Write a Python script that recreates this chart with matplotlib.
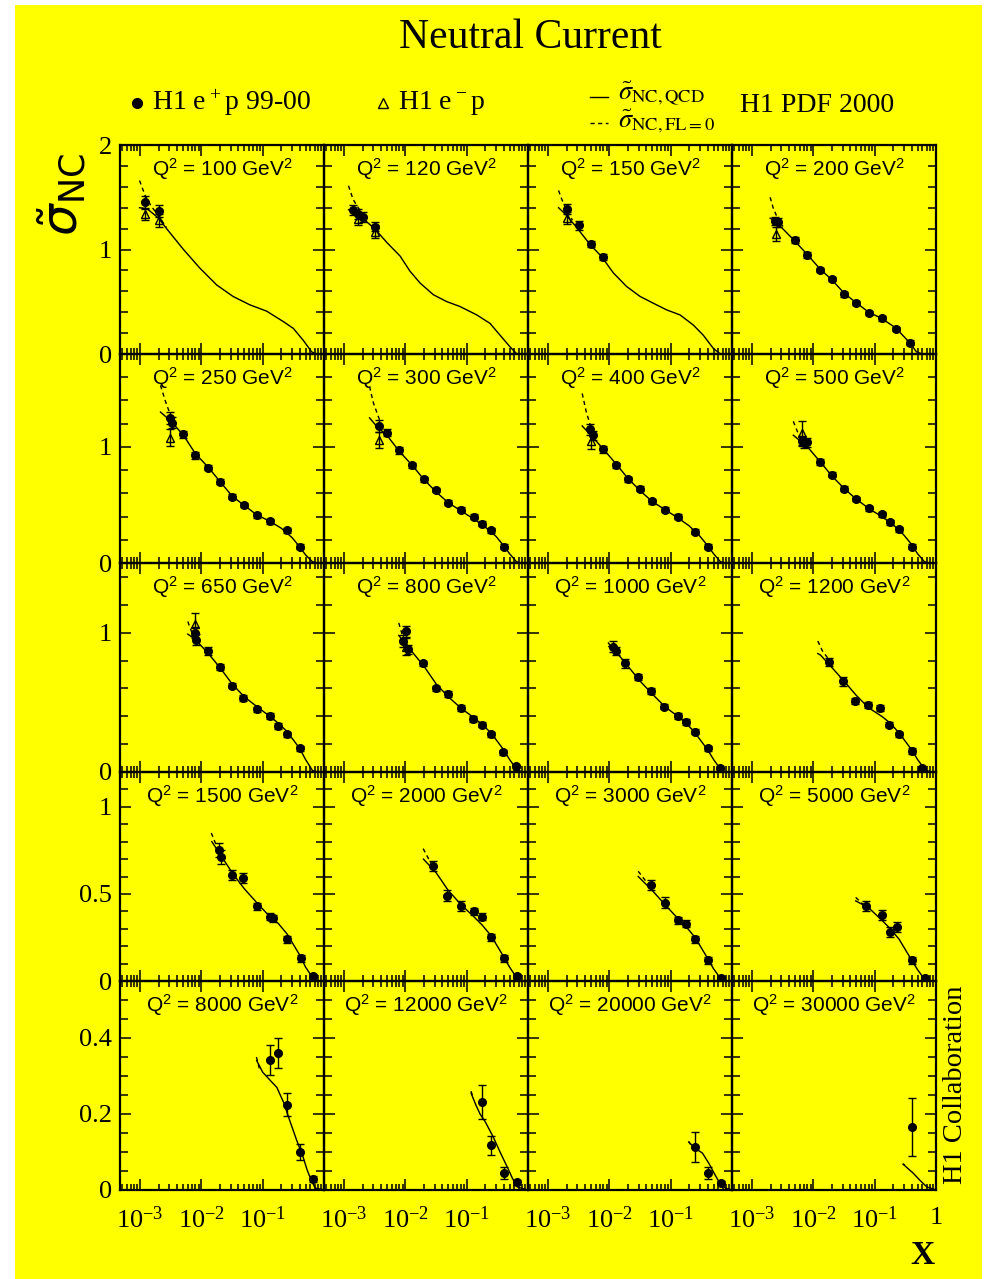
import matplotlib
matplotlib.use("Agg")
import matplotlib.pyplot as plt
from matplotlib.patches import Rectangle
from matplotlib.ticker import FixedLocator, FixedFormatter, NullFormatter, LogLocator

# ---------------------------------------------------------------- layout data
Q2_LIST = [100, 120, 150, 200, 250, 300, 400, 500, 650, 800,
           1000, 1200, 1500, 2000, 3000, 5000, 8000, 12000, 20000, 30000]
ROW_YMAX = [2.0, 1.8, 1.5, 1.2, 0.55]
ROW_MAJOR = [[0, 1, 2], [0, 1], [0, 1], [0, 0.5, 1], [0, 0.2, 0.4]]
ROW_LABELS = [["0", "1", "2"], ["0", "1"], ["0", "1"], ["0", "0.5", "1"], ["0", "0.2", "0.4"]]
ROW_MINOR = [0.2, 0.2, 0.2, 0.1, 0.05]
X_MAJOR = [1e-3, 1e-2, 1e-1, 1.0]
X_LABELS = [r"$\mathregular{10^{-3}}$", r"$\mathregular{10^{-2}}$", r"$\mathregular{10^{-1}}$", "1"]
X_MIN = 4.7e-4

# ---------------------------------------------------------------- per-bin data
# fit_*: H1 PDF 2000 sigma_NC (QCD), fl0_*: same with F_L = 0
# ep_*: H1 e+p 99-00 (x, sigma, error); em_*: H1 e-p (x, sigma, error)
fit_100 = ([0.00098, 0.0013, 0.002, 0.0027, 0.0051, 0.0095, 0.0178, 0.033, 0.062, 0.116, 0.217, 0.316, 0.46, 0.63, 0.75, 1.0],
           [1.40, 1.39, 1.30, 1.20, 1.00, 0.82, 0.66, 0.55, 0.47, 0.41, 0.31, 0.245, 0.13, 0.02, 0.0, 0.0])
fl0_100 = ([0.00098, 0.0012, 0.0015, 0.002, 0.0027], [1.66, 1.52, 1.42, 1.32, 1.21])
ep_100 = ([0.0012, 0.002], [1.45, 1.37], [0.06, 0.06])
em_100 = ([0.0012, 0.002], [1.34, 1.28], [0.06, 0.06])

fit_120 = ([0.00118, 0.0015, 0.002, 0.0032, 0.005, 0.0082, 0.0119, 0.0173, 0.0286, 0.047, 0.078, 0.146, 0.24, 0.35, 0.51, 0.65, 0.8, 1.0],
           [1.38, 1.36, 1.30, 1.195, 1.066, 0.937, 0.792, 0.68, 0.567, 0.502, 0.454, 0.374, 0.293, 0.18, 0.068, 0.003, 0.0, 0.0])
fl0_120 = ([0.00118, 0.0014, 0.0017, 0.0022], [1.61, 1.48, 1.40, 1.31])
ep_120 = ([0.0014, 0.0017, 0.002, 0.0032], [1.38, 1.34, 1.31, 1.22], [0.05, 0.05, 0.05, 0.04])
em_120 = ([0.0017, 0.0032], [1.29, 1.17], [0.06, 0.06])

fit_150 = ([0.00148, 0.0019, 0.00294, 0.0048, 0.0075, 0.0116, 0.019, 0.0316, 0.052, 0.086, 0.142, 0.234, 0.34, 0.5, 0.64, 0.8, 1.0],
           [1.40, 1.34, 1.21, 1.05, 0.93, 0.776, 0.647, 0.551, 0.486, 0.422, 0.374, 0.277, 0.18, 0.051, 0.003, 0.0, 0.0])
fl0_150 = ([0.00148, 0.0017, 0.002, 0.0025], [1.565, 1.47, 1.38, 1.28])
ep_150 = ([0.002, 0.0032, 0.005, 0.008], [1.39, 1.23, 1.05, 0.93], [0.05, 0.04, 0.03, 0.03])
em_150 = ([0.002], [1.30], [0.06])

fit_200 = ([0.00197, 0.0024, 0.005, 0.008, 0.013, 0.02, 0.032, 0.05, 0.08, 0.13, 0.22, 0.37, 0.48, 0.6, 1.0],
           [1.30, 1.27, 1.08, 0.95, 0.81, 0.71, 0.58, 0.49, 0.40, 0.34, 0.25, 0.11, 0.02, 0.0, 0.0])
fl0_200 = ([0.00197, 0.0022, 0.0026, 0.0032], [1.50, 1.40, 1.30, 1.22])
ep_200 = ([0.0024, 0.0026, 0.005, 0.008, 0.013, 0.02, 0.032, 0.05, 0.08, 0.13, 0.22, 0.37],
          [1.275, 1.26, 1.09, 0.95, 0.80, 0.72, 0.57, 0.49, 0.39, 0.34, 0.24, 0.11],
          [0.04, 0.04, 0.03, 0.03, 0.02, 0.02, 0.02, 0.02, 0.02, 0.02, 0.02, 0.02])
em_200 = ([0.0025], [1.15], [0.07])

fit_250 = ([0.00215, 0.0032, 0.0051, 0.0079, 0.013, 0.02, 0.032, 0.048, 0.079, 0.13, 0.2, 0.3, 0.4, 0.5, 0.65, 0.8, 1.0],
           [1.30, 1.22, 1.10, 0.945, 0.823, 0.703, 0.574, 0.503, 0.417, 0.36, 0.30, 0.22, 0.14, 0.07, 0.01, 0.0, 0.0])
fl0_250 = ([0.00215, 0.0026, 0.0031, 0.004], [1.53, 1.39, 1.28, 1.17])
ep_250 = ([0.0031, 0.0033, 0.005, 0.008, 0.013, 0.02, 0.032, 0.05, 0.08, 0.13, 0.25, 0.4],
          [1.25, 1.21, 1.11, 0.93, 0.82, 0.70, 0.57, 0.50, 0.41, 0.36, 0.28, 0.14],
          [0.05, 0.05, 0.03, 0.03, 0.02, 0.02, 0.02, 0.02, 0.02, 0.02, 0.02, 0.02])
em_250 = ([0.0031], [1.08], [0.07])

fit_300 = ([0.0026, 0.0035, 0.005, 0.008, 0.013, 0.02, 0.032, 0.05, 0.08, 0.13, 0.2, 0.3, 0.4, 0.5, 0.65, 0.8, 1.0],
           [1.25, 1.17, 1.10, 0.96, 0.84, 0.72, 0.61, 0.52, 0.45, 0.38, 0.31, 0.23, 0.15, 0.08, 0.01, 0.0, 0.0])
fl0_300 = ([0.0026, 0.003, 0.0038, 0.0048], [1.52, 1.38, 1.23, 1.12])
ep_300 = ([0.0037, 0.005, 0.008, 0.013, 0.02, 0.032, 0.05, 0.08, 0.13, 0.18, 0.25, 0.4],
          [1.18, 1.12, 0.97, 0.84, 0.72, 0.63, 0.52, 0.46, 0.40, 0.34, 0.28, 0.14],
          [0.05, 0.03, 0.03, 0.02, 0.02, 0.02, 0.02, 0.02, 0.02, 0.02, 0.02, 0.02])
em_300 = ([0.0037], [1.06], [0.07])

fit_400 = ([0.0036, 0.005, 0.008, 0.013, 0.02, 0.032, 0.05, 0.08, 0.13, 0.2, 0.3, 0.4, 0.5, 0.65, 0.8, 1.0],
           [1.18, 1.10, 0.98, 0.85, 0.73, 0.62, 0.53, 0.46, 0.39, 0.32, 0.23, 0.15, 0.08, 0.01, 0.0, 0.0])
fl0_400 = ([0.0036, 0.0042, 0.005, 0.006], [1.46, 1.30, 1.17, 1.10])
ep_400 = ([0.0048, 0.0055, 0.008, 0.013, 0.02, 0.032, 0.05, 0.08, 0.13, 0.25, 0.4],
          [1.15, 1.10, 0.98, 0.84, 0.72, 0.64, 0.53, 0.46, 0.40, 0.27, 0.14],
          [0.05, 0.04, 0.03, 0.02, 0.02, 0.02, 0.02, 0.02, 0.02, 0.02, 0.02])
em_400 = ([0.005], [1.05], [0.07])

fit_500 = ([0.0047, 0.0065, 0.008, 0.013, 0.02, 0.032, 0.05, 0.08, 0.13, 0.2, 0.3, 0.4, 0.5, 0.65, 0.8, 1.0],
           [1.10, 1.04, 1.00, 0.87, 0.75, 0.64, 0.55, 0.47, 0.40, 0.33, 0.24, 0.16, 0.08, 0.01, 0.0, 0.0])
fl0_500 = ([0.0047, 0.0056, 0.0066], [1.22, 1.12, 1.05])
ep_500 = ([0.0065, 0.007, 0.008, 0.013, 0.02, 0.032, 0.05, 0.08, 0.13, 0.18, 0.25, 0.4],
          [1.05, 1.03, 1.04, 0.87, 0.76, 0.64, 0.55, 0.47, 0.42, 0.35, 0.29, 0.14],
          [0.04, 0.04, 0.04, 0.03, 0.02, 0.02, 0.02, 0.02, 0.02, 0.02, 0.02, 0.02])
em_500 = ([0.0065], [1.12], [0.10])

fit_650 = ([0.006, 0.008, 0.013, 0.02, 0.032, 0.05, 0.08, 0.13, 0.18, 0.25, 0.4, 0.5, 0.65, 0.8, 1.0],
           [0.99, 0.95, 0.85, 0.75, 0.63, 0.54, 0.47, 0.40, 0.35, 0.29, 0.17, 0.09, 0.01, 0.0, 0.0])
fl0_650 = ([0.006, 0.007, 0.0085], [1.08, 1.00, 0.94])
ep_650 = ([0.0079, 0.0082, 0.013, 0.02, 0.032, 0.048, 0.08, 0.13, 0.18, 0.25, 0.4],
          [1.00, 0.95, 0.87, 0.755, 0.62, 0.53, 0.45, 0.40, 0.33, 0.27, 0.17],
          [0.04, 0.04, 0.03, 0.02, 0.02, 0.02, 0.02, 0.02, 0.02, 0.02, 0.02])
em_650 = ([0.0079], [1.06], [0.08])

fit_800 = ([0.0078, 0.01, 0.013, 0.02, 0.032, 0.05, 0.08, 0.13, 0.18, 0.25, 0.4, 0.5, 0.65, 0.8, 1.0],
           [0.98, 0.92, 0.86, 0.76, 0.63, 0.54, 0.46, 0.39, 0.34, 0.28, 0.16, 0.09, 0.02, 0.0, 0.0])
fl0_800 = ([0.0078, 0.0088, 0.0095], [1.07, 0.99, 0.95])
ep_800 = ([0.0091, 0.0102, 0.011, 0.0195, 0.0316, 0.05, 0.081, 0.127, 0.178, 0.25, 0.39, 0.64],
          [0.94, 1.01, 0.88, 0.78, 0.60, 0.56, 0.46, 0.38, 0.34, 0.27, 0.14, 0.04],
          [0.04, 0.04, 0.03, 0.02, 0.02, 0.02, 0.02, 0.02, 0.02, 0.02, 0.02, 0.01])
em_800 = ([0.0102], [0.90], [0.06])

fit_1000 = ([0.0098, 0.013, 0.02, 0.032, 0.05, 0.08, 0.13, 0.18, 0.25, 0.4, 0.5, 0.65, 0.8, 1.0],
            [0.90, 0.86, 0.76, 0.65, 0.56, 0.47, 0.40, 0.35, 0.28, 0.16, 0.09, 0.02, 0.0, 0.0])
fl0_1000 = ([0.0095, 0.011, 0.0125], [0.93, 0.89, 0.87])
ep_1000 = ([0.0115, 0.013, 0.018, 0.029, 0.048, 0.078, 0.13, 0.18, 0.25, 0.4, 0.63],
           [0.90, 0.87, 0.78, 0.68, 0.58, 0.47, 0.40, 0.36, 0.29, 0.17, 0.03],
           [0.04, 0.03, 0.03, 0.02, 0.02, 0.02, 0.02, 0.02, 0.02, 0.02, 0.01])
em_1000 = ([], [], [])

fit_1200 = ([0.0118, 0.013, 0.02, 0.032, 0.05, 0.08, 0.13, 0.18, 0.25, 0.4, 0.5, 0.65, 0.8, 1.0],
            [0.85, 0.84, 0.75, 0.65, 0.55, 0.46, 0.40, 0.35, 0.28, 0.16, 0.09, 0.02, 0.0, 0.0])
fl0_1200 = ([0.0118, 0.014, 0.017], [0.94, 0.87, 0.82])
ep_1200 = ([0.018, 0.03, 0.048, 0.078, 0.12, 0.17, 0.25, 0.4, 0.6],
           [0.79, 0.65, 0.51, 0.48, 0.46, 0.34, 0.27, 0.15, 0.03],
           [0.03, 0.03, 0.02, 0.02, 0.02, 0.02, 0.02, 0.02, 0.01])
em_1200 = ([], [], [])

fit_1500 = ([0.0148, 0.02, 0.032, 0.05, 0.08, 0.13, 0.18, 0.25, 0.4, 0.5, 0.65, 0.8, 1.0],
            [0.80, 0.73, 0.62, 0.53, 0.45, 0.37, 0.33, 0.27, 0.15, 0.08, 0.02, 0.0, 0.0])
fl0_1500 = ([0.0145, 0.017, 0.02], [0.85, 0.79, 0.74])
ep_1500 = ([0.0195, 0.021, 0.032, 0.048, 0.08, 0.13, 0.15, 0.25, 0.42, 0.65],
           [0.75, 0.71, 0.61, 0.59, 0.43, 0.37, 0.36, 0.24, 0.13, 0.03],
           [0.04, 0.04, 0.03, 0.03, 0.02, 0.02, 0.02, 0.02, 0.02, 0.01])
em_1500 = ([], [], [])

fit_2000 = ([0.0197, 0.032, 0.05, 0.08, 0.13, 0.18, 0.25, 0.4, 0.5, 0.65, 0.8, 1.0],
            [0.70, 0.62, 0.52, 0.44, 0.37, 0.32, 0.26, 0.14, 0.08, 0.02, 0.0, 0.0])
fl0_2000 = ([0.0195, 0.024, 0.028], [0.76, 0.70, 0.66])
ep_2000 = ([0.028, 0.048, 0.08, 0.13, 0.18, 0.25, 0.4, 0.65],
           [0.66, 0.49, 0.43, 0.40, 0.37, 0.25, 0.13, 0.03],
           [0.03, 0.03, 0.03, 0.02, 0.02, 0.02, 0.02, 0.01])
em_2000 = ([], [], [])

fit_3000 = ([0.0295, 0.05, 0.08, 0.13, 0.18, 0.25, 0.4, 0.5, 0.65, 0.8, 1.0],
            [0.60, 0.52, 0.44, 0.36, 0.31, 0.25, 0.13, 0.07, 0.015, 0.0, 0.0])
fl0_3000 = ([0.0295, 0.038, 0.045], [0.63, 0.58, 0.55])
ep_3000 = ([0.048, 0.08, 0.13, 0.18, 0.25, 0.4, 0.65],
           [0.55, 0.45, 0.35, 0.33, 0.24, 0.12, 0.02],
           [0.03, 0.03, 0.02, 0.02, 0.02, 0.02, 0.01])
em_3000 = ([], [], [])

fit_5000 = ([0.049, 0.08, 0.13, 0.18, 0.25, 0.4, 0.5, 0.65, 0.8, 1.0],
            [0.46, 0.42, 0.35, 0.30, 0.24, 0.12, 0.065, 0.01, 0.0, 0.0])
fl0_5000 = ([0.049, 0.06, 0.07], [0.48, 0.45, 0.43])
ep_5000 = ([0.072, 0.13, 0.18, 0.23, 0.4, 0.65],
           [0.43, 0.38, 0.28, 0.31, 0.12, 0.02],
           [0.03, 0.03, 0.03, 0.03, 0.02, 0.01])
em_5000 = ([], [], [])

fit_8000 = ([0.08, 0.1, 0.13, 0.17, 0.22, 0.28, 0.36, 0.45, 0.53, 0.62, 0.72, 1.0],
            [0.34, 0.31, 0.29, 0.27, 0.23, 0.18, 0.13, 0.09, 0.053, 0.025, 0.005, 0.0])
fl0_8000 = ([0.079, 0.088], [0.35, 0.32])
ep_8000 = ([0.13, 0.18, 0.25, 0.4, 0.65], [0.342, 0.36, 0.224, 0.10, 0.028], [0.04, 0.04, 0.03, 0.02, 0.008])
em_8000 = ([], [], [])

fit_12000 = ([0.118, 0.14, 0.165, 0.2, 0.27, 0.35, 0.46, 0.56, 0.67, 1.0],
             [0.255, 0.225, 0.20, 0.18, 0.14, 0.10, 0.06, 0.03, 0.008, 0.0])
fl0_12000 = ([0.118, 0.128], [0.26, 0.24])
ep_12000 = ([0.18, 0.25, 0.4, 0.65], [0.232, 0.118, 0.045, 0.02], [0.045, 0.025, 0.015, 0.006])
em_12000 = ([], [], [])

fit_20000 = ([0.197, 0.25, 0.33, 0.42, 0.5, 0.62, 0.78, 1.0],
             [0.126, 0.11, 0.097, 0.07, 0.047, 0.02, 0.005, 0.0])
fl0_20000 = ([0.197, 0.21], [0.128, 0.12])
ep_20000 = ([0.25, 0.4, 0.65], [0.113, 0.045, 0.018], [0.04, 0.015, 0.006])
em_20000 = ([], [], [])

fit_30000 = ([0.29, 0.42, 0.55, 0.71, 1.0], [0.068, 0.045, 0.025, 0.008, 0.0])
fl0_30000 = ([0.29, 0.31], [0.069, 0.065])
ep_30000 = ([0.4], [0.166], [0.076])
em_30000 = ([], [], [])

PANELS = [
    (100, fit_100, fl0_100, ep_100, em_100), (120, fit_120, fl0_120, ep_120, em_120),
    (150, fit_150, fl0_150, ep_150, em_150), (200, fit_200, fl0_200, ep_200, em_200),
    (250, fit_250, fl0_250, ep_250, em_250), (300, fit_300, fl0_300, ep_300, em_300),
    (400, fit_400, fl0_400, ep_400, em_400), (500, fit_500, fl0_500, ep_500, em_500),
    (650, fit_650, fl0_650, ep_650, em_650), (800, fit_800, fl0_800, ep_800, em_800),
    (1000, fit_1000, fl0_1000, ep_1000, em_1000), (1200, fit_1200, fl0_1200, ep_1200, em_1200),
    (1500, fit_1500, fl0_1500, ep_1500, em_1500), (2000, fit_2000, fl0_2000, ep_2000, em_2000),
    (3000, fit_3000, fl0_3000, ep_3000, em_3000), (5000, fit_5000, fl0_5000, ep_5000, em_5000),
    (8000, fit_8000, fl0_8000, ep_8000, em_8000), (12000, fit_12000, fl0_12000, ep_12000, em_12000),
    (20000, fit_20000, fl0_20000, ep_20000, em_20000), (30000, fit_30000, fl0_30000, ep_30000, em_30000),
]

# ---------------------------------------------------------------- figure
W, H = 987, 1279
YELLOW = "#FFFF00"
SERIF = "Liberation Serif"
SANS = "Liberation Sans"

fig = plt.figure(figsize=(W / 100, H / 100), dpi=100, facecolor="white")
fig.patches.append(Rectangle((15 / W, 0), (982 - 15) / W, (H - 5) / H,
                             transform=fig.transFigure, facecolor=YELLOW,
                             edgecolor="none", zorder=-10))

gs = fig.add_gridspec(5, 4, left=120 / W, right=936 / W,
                      top=1 - 145 / H, bottom=1 - 1190 / H, wspace=0, hspace=0)


def px(xp, yp):
    return xp / W, 1 - yp / H


for i, (q2, fit, fl0, ep, em) in enumerate(PANELS):
    r, c = divmod(i, 4)
    ax = fig.add_subplot(gs[r, c])
    ax.set_facecolor("none")
    ax.set_xscale("log")
    ax.set_xlim(X_MIN, 1.0)
    ax.set_ylim(0, ROW_YMAX[r])

    for sp in ax.spines.values():
        sp.set_linewidth(1.6)

    ax.xaxis.set_major_locator(FixedLocator(X_MAJOR))
    ax.xaxis.set_minor_locator(LogLocator(base=10, subs=range(2, 10), numticks=20))
    ax.xaxis.set_minor_formatter(NullFormatter())
    ax.yaxis.set_major_locator(FixedLocator(ROW_MAJOR[r]))
    nminor = int(round(ROW_YMAX[r] / ROW_MINOR[r]))
    ax.yaxis.set_minor_locator(FixedLocator([k * ROW_MINOR[r] for k in range(nminor + 1)]))

    ax.tick_params(which="both", direction="in", top=True, right=True,
                   width=1.1, color="black")
    ax.tick_params(which="major", length=8)
    ax.tick_params(axis="x", which="minor", length=4.5)
    ax.tick_params(axis="y", which="minor", length=6)

    if r == 4:
        labels = X_LABELS if c == 3 else X_LABELS[:3] + [""]
        ax.xaxis.set_major_formatter(FixedFormatter(labels))
        ax.tick_params(axis="x", labelsize=19, pad=12)
        for t in ax.get_xticklabels():
            t.set_family(SERIF)
    else:
        ax.xaxis.set_major_formatter(NullFormatter())

    if c == 0:
        ax.yaxis.set_major_formatter(FixedFormatter(ROW_LABELS[r]))
        ax.tick_params(axis="y", labelsize=19, pad=6)
        for t in ax.get_yticklabels():
            t.set_family(SERIF)
    else:
        ax.yaxis.set_major_formatter(NullFormatter())

    ax.plot(fit[0], fit[1], color="black", lw=1.0, zorder=3)
    ax.plot(fl0[0], fl0[1], color="black", lw=1.0, ls=(0, (3, 2.5)), zorder=3)
    if ep[0]:
        ax.errorbar(ep[0], ep[1], yerr=ep[2], fmt="o", ms=5.5, color="black",
                    elinewidth=1.0, capsize=3, capthick=1.0, zorder=4)
    if em[0]:
        ax.errorbar(em[0], em[1], yerr=em[2], fmt="^", ms=5.5, mfc="none", mec="black",
                    color="black", elinewidth=1.0, capsize=3, capthick=1.0, zorder=4)

    ax.text(0.5, 0.885, r"Q$\mathregular{^2}$ = %d GeV$\mathregular{^2}$" % q2,
            transform=ax.transAxes, ha="center", va="center", fontsize=15, family=SANS)

# ---------------------------------------------------------------- titles and legend
fig.text(*px(530, 38), "Neutral Current", family=SERIF, fontsize=30, ha="center", va="center")

lx, ly = px(137, 103)
fig.lines.append(plt.Line2D([lx], [ly], marker="o", ms=7, color="black", transform=fig.transFigure))
fig.text(*px(152, 103), r"H1 e$\mathregular{^+}$p 99-00", family=SERIF, fontsize=20, ha="left", va="center")
tx, ty = px(383, 103)
fig.lines.append(plt.Line2D([tx], [ty], marker="^", ms=7, mfc="none", mec="black", transform=fig.transFigure))
fig.text(*px(398, 103), r"H1 e$\mathregular{^-}$p", family=SERIF, fontsize=20, ha="left", va="center")

x0, y0 = px(590, 97)
x1, _ = px(608, 97)
fig.lines.append(plt.Line2D([x0, x1], [y0, y0], color="black", lw=1.0, transform=fig.transFigure))
_, y2 = px(590, 123)
fig.lines.append(plt.Line2D([x0, x1], [y2, y2], color="black", lw=1.0, ls=(0, (3, 2.5)),
                            transform=fig.transFigure))
fig.text(*px(618, 93), r"$\tilde{\sigma}_{\mathrm{NC,QCD}}$", fontsize=19, ha="left", va="center",
         math_fontfamily="stix")
fig.text(*px(618, 121), r"$\tilde{\sigma}_{\mathrm{NC,FL=0}}$", fontsize=19, ha="left", va="center",
         math_fontfamily="stix")
fig.text(*px(740, 105), "H1 PDF 2000", family=SERIF, fontsize=20, ha="left", va="center")

fig.text(*px(62, 195), r"$\tilde{\sigma}_{\mathrm{NC}}$", fontsize=36, rotation=90,
         ha="center", va="center")
fig.text(*px(922, 1255), "X", family=SERIF, fontsize=24, weight="bold", ha="center", va="center")
fig.text(*px(956, 1085), "H1 Collaboration", family=SERIF, fontsize=20.5, rotation=90,
         ha="center", va="center")

fig.savefig("out.png", dpi=100, facecolor=fig.get_facecolor())
